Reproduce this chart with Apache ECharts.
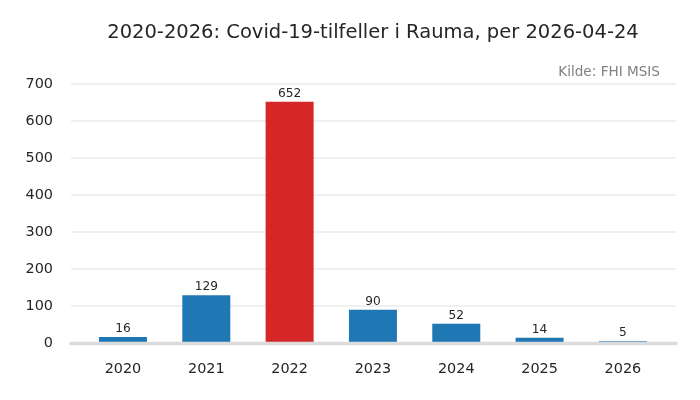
<!DOCTYPE html>
<html>
<head>
<meta charset="utf-8">
<script src="https://cdn.jsdelivr.net/npm/echarts@6/dist/echarts.min.js"></script>
<style>html,body{margin:0;padding:0;background:#fff}#c{width:700px;height:400px}</style>
</head>
<body>
<div id="c"></div>
<script>
const categories = ['2020','2021','2022','2023','2024','2025','2026'];
const values = [16, 129, 652, 90, 52, 14, 5];
const highlightIndex = 2;
const yTicks = [0,100,200,300,400,500,600,700];
const titleText = '2020-2026: Covid-19-tilfeller i Rauma, per 2026-04-24';
const sourceText = 'Kilde: FHI MSIS';

const FONT = 'DejaVu Sans';
const chart = echarts.init(document.getElementById('c'), null, {renderer:'canvas'});
chart.setOption({
  animation: false,
  backgroundColor: '#ffffff',
  textStyle: {fontFamily: FONT},
  graphic: [{
    type: 'text', x: 373, y: 33, z: 100,
    style: {text: titleText, align: 'center', verticalAlign: 'middle',
      font: '19.5px "DejaVu Sans"', fill: '#262626'}
  },{
    type: 'text', x: 660, y: 72, z: 100,
    style: {text: sourceText, align: 'right', verticalAlign: 'middle',
      font: '13.6px "DejaVu Sans"', fill: '#808080'}
  }],
  grid: [
    {left: 71, right: 24, top: 84, bottom: 57, containLabel: false},
    {left: 81.3, right: 35.4, top: 84, bottom: 57, containLabel: false}
  ],
  xAxis: [{
    gridIndex: 0, type: 'value', min: 0, max: 1, z: 10, zlevel: 1,
    axisLine: {show: true, onZero: false, lineStyle: {color: '#dcdcdc', width: 3.4}},
    axisTick: {show: false}, axisLabel: {show: false}, splitLine: {show: false}
  },{
    gridIndex: 1, type: 'category', data: categories,
    axisLine: {show: false},
    axisTick: {show: false},
    axisLabel: {color: '#262626', fontSize: 14.4, margin: 19, fontFamily: FONT}
  }],
  yAxis: [{
    gridIndex: 0, type: 'value', min: 0, max: 700, interval: 100,
    axisLine: {show: false}, axisTick: {show: false},
    splitLine: {lineStyle: {color: '#ebebeb', width: 1.5}},
    axisLabel: {color: '#262626', fontSize: 14.4, margin: 18, fontFamily: FONT,
      formatter: v => yTicks.includes(v) ? String(v) : ''}
  },{
    gridIndex: 1, type: 'value', min: 0, max: 700, interval: 100, show: false,
    splitLine: {show: false}
  }],
  series: [{
    type: 'bar', xAxisIndex: 1, yAxisIndex: 1, barWidth: '57.6%',
    data: values.map((v,i) => ({value: v, itemStyle: {color: i === highlightIndex ? '#d62728' : '#1f77b4'}})),
    label: {show: true, position: 'top', distance: 2, color: '#262626', fontSize: 12.2, fontFamily: FONT}
  }]
});
</script>
</body>
</html>
